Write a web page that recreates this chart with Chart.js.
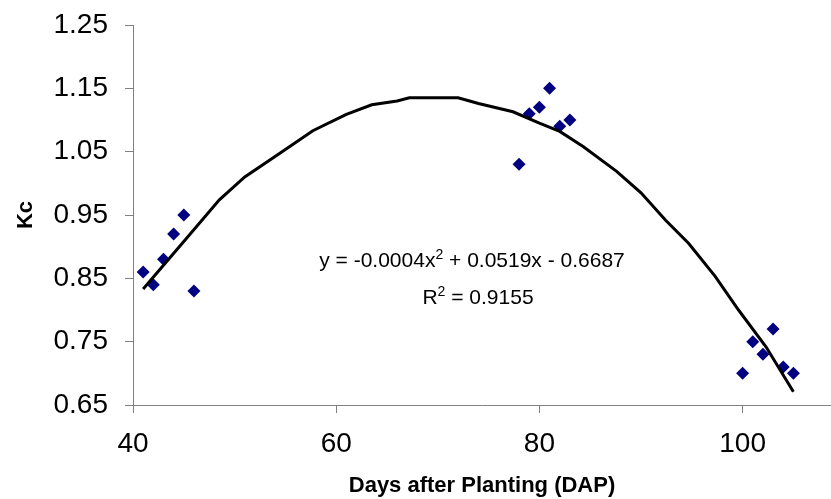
<!DOCTYPE html>
<html>
<head>
<meta charset="utf-8">
<title>Kc vs DAP</title>
<script src="https://cdn.jsdelivr.net/npm/chart.js@4.4.1/dist/chart.umd.min.js"></script>
<style>
  body { margin: 0; background: #fff; }
  #wrap { width: 831px; height: 499px; }
</style>
</head>
<body>
<div id="wrap"><canvas id="kc" width="831" height="499"></canvas></div>
<script>
// measured points
var dap = [41, 42, 43, 44, 45, 46, 78, 79, 80, 81, 82, 83, 100, 101, 102, 103, 104, 105];
var kc = [0.86, 0.84, 0.88, 0.92, 0.95, 0.83, 1.03, 1.11, 1.12, 1.15, 1.09, 1.10,
          0.70, 0.75, 0.73, 0.77, 0.71, 0.70];

// trend line
var trendX = [41, 45, 48.5, 51, 54.6, 57.7, 61, 63.5, 66, 67.2, 72, 74, 77.4, 80, 82,
              84.3, 87.6, 90, 92.4, 94.7, 97.3, 99.6, 102.3, 105];
var trendY = [0.833, 0.908, 0.974, 1.01, 1.049, 1.083, 1.109, 1.124, 1.130, 1.135, 1.135,
              1.126, 1.113, 1.095, 1.082, 1.058, 1.019, 0.985, 0.942, 0.905, 0.853, 0.80,
              0.742, 0.671];

var xTicks = [40, 60, 80, 100];
var yTicks = [0.65, 0.75, 0.85, 0.95, 1.05, 1.15, 1.25];

var eqLine1 = ['y = -0.0004x', '2', ' + 0.0519x - 0.6687'];
var eqLine2 = ['R', '2', ' = 0.9155'];

var fontFamily = '"Liberation Sans", Arial, sans-serif';

function toPoints(xs, ys) {
  return xs.map(function (x, i) { return { x: x, y: ys[i] }; });
}

// draws the equation label with superscripts
var equationLabel = {
  id: 'equationLabel',
  afterDraw: function (chart) {
    var ctx = chart.ctx;
    var big = '21px ' + fontFamily;
    var small = '14px ' + fontFamily;
    function drawLine(parts, cx, baseline) {
      var widths = parts.map(function (p, i) {
        ctx.font = (i === 1) ? small : big;
        return ctx.measureText(p).width;
      });
      var total = widths.reduce(function (a, b) { return a + b; }, 0);
      var x = cx - total / 2;
      ctx.save();
      ctx.fillStyle = '#000';
      ctx.textBaseline = 'alphabetic';
      ctx.textAlign = 'left';
      parts.forEach(function (p, i) {
        ctx.font = (i === 1) ? small : big;
        ctx.fillText(p, x, (i === 1) ? baseline - 8 : baseline);
        x += widths[i];
      });
      ctx.restore();
    }
    drawLine(eqLine1, 472, 267);
    drawLine(eqLine2, 478, 304);
  }
};

var ctx = document.getElementById('kc').getContext('2d');

var config = {
  type: 'scatter',
  data: {
    datasets: [
      {
        // trendline (drawn on top)
        type: 'line',
        data: toPoints(trendX, trendY),
        borderColor: '#000',
        borderWidth: 3,
        pointRadius: 0,
        tension: 0,
        fill: false
      },
      {
        data: toPoints(dap, kc),
        pointStyle: 'rectRot',
        pointRadius: 6.5,
        pointHoverRadius: 6.5,
        backgroundColor: '#000080',
        borderColor: '#000080',
        borderWidth: 0
      }
    ]
  },
  options: {
    responsive: false,
    animation: false,
    events: [],
    layout: { autoPadding: false, padding: { top: 25, right: 0, left: 0, bottom: 0 } },
    plugins: {
      legend: { display: false },
      tooltip: { enabled: false }
    },
    scales: {
      x: {
        type: 'linear',
        min: 40,
        max: 108.7,
        afterBuildTicks: function (scale) {
          scale.ticks = xTicks.map(function (v) { return { value: v }; });
        },
        afterFit: function (scale) {
          scale.height = 94;
          scale.paddingLeft = 0;
          scale.paddingRight = 0;
        },
        grid: { drawOnChartArea: false, tickLength: 8, color: '#808080' },
        border: { color: '#808080', width: 1 },
        ticks: {
          color: '#000',
          padding: 14,
          font: { family: fontFamily, size: 28 }
        },
        title: {
          display: true,
          text: 'Days after Planting (DAP)',
          color: '#000',
          padding: { top: 0, bottom: 0 },
          font: { family: fontFamily, size: 22, weight: 'bold' }
        }
      },
      y: {
        min: 0.65,
        max: 1.25,
        afterBuildTicks: function (scale) {
          scale.ticks = yTicks.map(function (v) { return { value: v }; });
        },
        afterFit: function (scale) {
          scale.width = 133;
          scale.paddingTop = 0;
          scale.paddingBottom = 0;
        },
        grid: { drawOnChartArea: false, tickLength: 8, color: '#808080' },
        border: { color: '#808080', width: 1 },
        ticks: {
          color: '#000',
          padding: 17,
          font: { family: fontFamily, size: 28 },
          callback: function (v) { return v.toFixed(2); }
        },
        title: {
          display: true,
          text: 'Kc',
          color: '#000',
          padding: { top: 13, bottom: 0 },
          font: { family: fontFamily, size: 22, weight: 'bold' }
        }
      }
    }
  },
  plugins: [equationLabel]
};

var kcChart = new Chart(ctx, config);
</script>
</body>
</html>
